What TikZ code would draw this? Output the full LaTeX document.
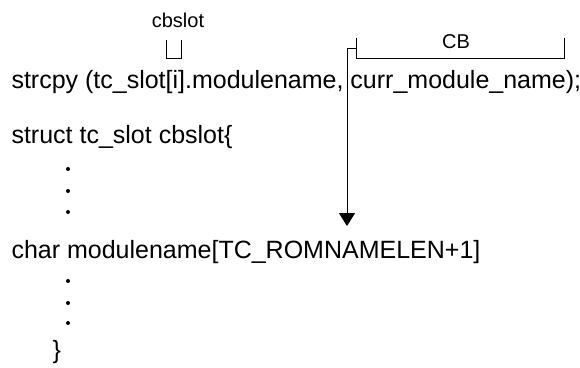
\documentclass[tikz,border=0pt]{standalone}
\usepackage{fontspec}
\setmainfont{Liberation Sans}
\usepackage{tikz}
\usetikzlibrary{positioning}
\usetikzlibrary{arrows.meta}

\begin{document}
\begin{tikzpicture}[x=1pt,y=-1pt,line width=1pt,
    code/.style={anchor=base west,inner sep=0pt,font=\fontsize{25}{30}\selectfont},
    lbl/.style={anchor=base,inner sep=0pt,font=\fontsize{20}{24}\selectfont}]
  \useasboundingbox (0,0) rectangle (580,367);

  \node [code] (strcpyline) at (11,88)  {strcpy (tc\_slot[i].modulename, curr\_module\_name);};
  \node [code] (structline) at (11,143) {struct tc\_slot cbslot\{};
  \node [code] (charline)   at (11,258) {char modulename[TC\_ROMNAMELEN+1]};
  \node [code] (closebrace) at (52,358) {\}};

  \node [lbl] (cbslotlbl) at (178,27) {cbslot};
  \node [lbl] (cblbl)     at (456,48) {CB};

  % dots
  \foreach \y in {169,191,212,281,303,323}
    \fill (68,\y) circle (2);

  % brackets
  \coordinate (cbslotl) at (166,40);
  \coordinate (cbslotr) at (181,40);
  \draw (cbslotl) -- (166,58) -- (181,58) -- (cbslotr);

  \coordinate (cbl) at (356,38);
  \coordinate (cbr) at (564,38);
  \draw (cbl) -- (356,58) -- (564,58) -- (cbr);

  \coordinate (cbstep) at (347,48);
  \coordinate (arrowtip) at (347,226);
  \draw (356,48) -- (cbstep);
  \draw [-{Triangle[width=16pt,length=13pt]}] (cbstep) -- (arrowtip);
\end{tikzpicture}
\end{document}
